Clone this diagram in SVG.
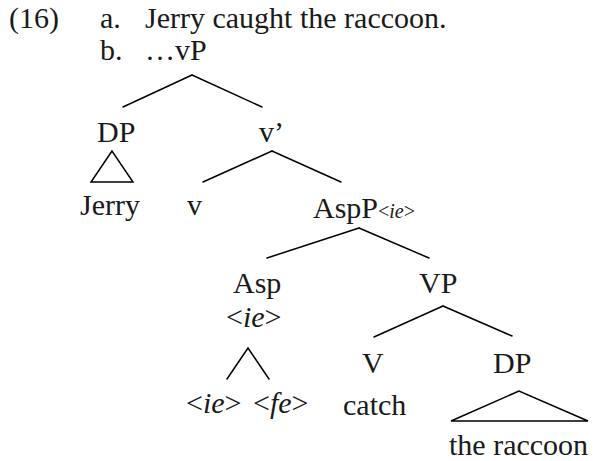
<svg xmlns="http://www.w3.org/2000/svg" width="597" height="461" viewBox="0 0 597 461">
<style>
text{font-family:"Liberation Serif",serif;font-size:30px;fill:#1a1a1a}
.it{font-style:italic}
.sub{font-size:20px}
line,polygon{stroke:#000;stroke-width:1.5;fill:none;stroke-linecap:round}
</style>
<rect width="597" height="461" fill="#fff"/>
<g id="header">
<text x="9" y="28">(16)</text>
<text x="100" y="28">a.</text>
<text x="145" y="28">Jerry caught the raccoon.</text>
<text x="100" y="60">b.</text>
</g>
<g id="connectors">
<line x1="192" y1="75" x2="123" y2="107"/>
<line x1="192" y1="75" x2="262" y2="107"/>
<polygon points="112,151 91,182 133,182"/>
<line x1="272" y1="151" x2="203" y2="182"/>
<line x1="272" y1="151" x2="341" y2="182"/>
<line x1="359" y1="228" x2="267" y2="258"/>
<line x1="359" y1="228" x2="429" y2="258"/>
<line x1="443" y1="306" x2="374" y2="337"/>
<line x1="443" y1="306" x2="512" y2="336"/>
<line x1="248" y1="348" x2="227" y2="379"/>
<line x1="248" y1="348" x2="269" y2="379"/>
<polygon points="519,391 451,421 588,421"/>
</g>
<g id="vP"><text x="145" y="60">…vP</text></g>
<g id="DP1"><text x="97" y="142" style="font-family:'Liberation Serif',serif">DP</text></g>
<g id="Jerry"><text x="80" y="215" style="font-family:'Liberation Serif',serif">Jerry</text></g>
<g id="vbar"><text x="259" y="142">v’</text></g>
<g id="v"><text x="187" y="215">v</text></g>
<g id="AspP"><text x="313" y="218">AspP<tspan class="sub">&lt;<tspan class="it">ie</tspan>&gt;</tspan></text></g>
<g id="Asp"><text x="233" y="293" style="font-family:'Liberation Serif',serif">Asp</text><text x="226" y="327">&lt;<tspan class="it">ie</tspan>&gt;</text></g>
<g id="VP"><text x="419" y="293" style="font-family:'Liberation Serif',serif">VP</text></g>
<g id="ie"><text x="186" y="413">&lt;<tspan class="it">ie</tspan>&gt;</text></g>
<g id="fe"><text x="253" y="413">&lt;<tspan class="it">fe</tspan>&gt;</text></g>
<g id="V"><text x="362" y="373">V</text></g>
<g id="catch"><text x="343" y="415" style="font-family:'Liberation Serif',serif">catch</text></g>
<g id="DP2"><text x="493" y="373" style="font-family:'Liberation Serif',serif">DP</text></g>
<g id="raccoon"><text x="449" y="455" style="font-family:'Liberation Serif',serif">the raccoon</text></g>
</svg>
